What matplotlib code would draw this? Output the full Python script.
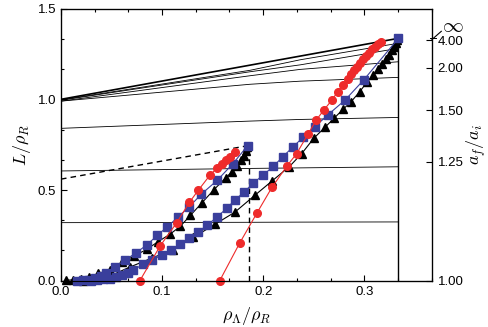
import matplotlib
matplotlib.use("Agg")
import matplotlib.pyplot as plt
from matplotlib.ticker import MultipleLocator, FixedLocator
import numpy as np

plt.rcParams['font.family'] = ['Liberation Sans', 'DejaVu Sans']
plt.rcParams['mathtext.fontset'] = 'cm'

# ---------------- data ----------------
# left group (ends at rho_L/rho_R ~ 0.185)
blue1_x = [0.016, 0.022, 0.028, 0.034, 0.040, 0.045, 0.053, 0.0634, 0.0743, 0.0848, 0.0953, 0.1052, 0.116, 0.127, 0.1386, 0.1548, 0.170, 0.1845]
blue1_y = [0.0, 0.002, 0.006, 0.013, 0.025, 0.045, 0.075, 0.114, 0.154, 0.197, 0.25, 0.298, 0.352, 0.408, 0.476, 0.555, 0.645, 0.744]

black1_x = [0.005, 0.012, 0.020, 0.028, 0.037, 0.0485, 0.060, 0.072, 0.0848, 0.096, 0.108, 0.118, 0.128, 0.139, 0.151, 0.163, 0.169, 0.174, 0.178, 0.181, 0.183, 0.184]
black1_y = [0.002, 0.005, 0.010, 0.020, 0.040, 0.060, 0.101, 0.135, 0.173, 0.215, 0.257, 0.30, 0.36, 0.427, 0.50, 0.568, 0.60, 0.635, 0.665, 0.69, 0.715, 0.735]

red1_x = [0.078, 0.098, 0.1145, 0.127, 0.136, 0.1475, 0.154, 0.159, 0.163, 0.167, 0.172]
red1_y = [0.0, 0.191, 0.32, 0.432, 0.50, 0.583, 0.62, 0.642, 0.665, 0.684, 0.708]

# right group (ends at rho_L/rho_R ~ 1/3)
blue2_x = [0.030, 0.036, 0.042, 0.048, 0.054, 0.060, 0.066, 0.0716, 0.0815, 0.0898, 0.0997, 0.1086, 0.1178, 0.127, 0.1353, 0.1449, 0.154, 0.164, 0.172, 0.181, 0.190, 0.200, 0.210, 0.2195, 0.229, 0.2393, 0.2512, 0.2637, 0.281, 0.2993, 0.3337]
blue2_y = [0.0, 0.003, 0.007, 0.012, 0.020, 0.030, 0.045, 0.060, 0.090, 0.115, 0.140, 0.167, 0.200, 0.235, 0.268, 0.307, 0.350, 0.399, 0.445, 0.488, 0.537, 0.583, 0.630, 0.684, 0.735, 0.790, 0.849, 0.913, 0.996, 1.106, 1.336]

black2_x = [0.022, 0.035, 0.050, 0.068, 0.090, 0.1105, 0.131, 0.152, 0.172, 0.192, 0.209, 0.2257, 0.238, 0.250, 0.261, 0.270, 0.279, 0.287, 0.2955, 0.303, 0.309, 0.314, 0.318, 0.321, 0.324, 0.327, 0.329, 0.331, 0.332]
black2_y = [0.0, 0.010, 0.030, 0.075, 0.125, 0.170, 0.239, 0.310, 0.378, 0.472, 0.551, 0.628, 0.700, 0.785, 0.845, 0.895, 0.945, 0.987, 1.042, 1.097, 1.134, 1.165, 1.195, 1.220, 1.245, 1.270, 1.290, 1.310, 1.325]

red2_x = [0.157, 0.1766, 0.194, 0.2086, 0.2234, 0.233, 0.2445, 0.2525, 0.260, 0.268, 0.2736, 0.279, 0.2835, 0.2868, 0.290, 0.293, 0.296, 0.299, 0.302, 0.305, 0.308, 0.311, 0.314, 0.3165]
red2_y = [0.0, 0.206, 0.375, 0.514, 0.632, 0.70, 0.81, 0.886, 0.941, 0.996, 1.042, 1.079, 1.11, 1.138, 1.16, 1.18, 1.20, 1.22, 1.24, 1.258, 1.275, 1.29, 1.305, 1.317]

# contour lines of constant a_f/a_i
contour_x = [0.0, 0.187, 0.2366, 0.3335]
contours_y = [
    [0.997, 1.160, 1.218, 1.309],
    [0.995, 1.152, 1.190, 1.281],
    [0.990, 1.130, 1.165, 1.207],
    [0.990, 1.083, 1.100, 1.121],
    [0.840, 0.880, 0.889, 0.900],
    [0.605, 0.619, 0.622, 0.628],
    [0.320, 0.322, 0.323, 0.324],
]
bold_x = [0.0, 0.3335]
bold_y = [1.0, 1.336]
dash_x = [0.0, 0.1845]
dash_y = [0.56, 0.744]
vdash_x = 0.1855
vsolid_x = 0.3335

right_ticks = [0.0, 0.656, 0.941, 1.173, 1.327]
right_labels = ['1.00', '1.25', '1.50', '2.00', '4.00']

BLUE = '#3a3f9c'
RED = '#ee2b2b'

fig = plt.figure(figsize=(4.88, 3.27), dpi=100)
ax = fig.add_axes([0.125, 0.1416, 0.7603, 0.832])

for cy in contours_y:
    ax.plot(contour_x, cy, color='black', lw=0.6, zorder=1)
ax.plot(bold_x, bold_y, color='black', lw=1.2, zorder=1)
ax.plot(dash_x, dash_y, color='black', lw=1.0, ls=(0, (4, 3)), zorder=1)
ax.plot([vdash_x, vdash_x], [0, dash_y[-1]], color='black', lw=1.0, ls=(0, (4, 3)), zorder=1)
ax.plot([vsolid_x, vsolid_x], [0, bold_y[-1]], color='black', lw=1.0, zorder=1)

ms = 5.5
for xs, ys in [(blue1_x, blue1_y), (blue2_x, blue2_y)]:
    ax.plot(xs, ys, color=BLUE, lw=0.8, marker='s', ms=ms, mec=BLUE, mfc=BLUE, zorder=4, clip_on=False)
for xs, ys in [(black1_x, black1_y), (black2_x, black2_y)]:
    ax.plot(xs, ys, color='black', lw=0.8, marker='^', ms=ms, mec='black', mfc='black', zorder=3, clip_on=False)
for xs, ys in [(red1_x, red1_y), (red2_x, red2_y)]:
    ax.plot(xs, ys, color=RED, lw=0.8, marker='o', ms=ms, mec=RED, mfc=RED, zorder=5, clip_on=False)

ax.set_xlim(0, 0.367)
ax.set_ylim(0, 1.5)
ax.xaxis.set_major_locator(FixedLocator([0.0, 0.1, 0.2, 0.3]))
ax.xaxis.set_minor_locator(MultipleLocator(0.1 / 3))
ax.yaxis.set_major_locator(FixedLocator([0.0, 0.5, 1.0, 1.5]))
ax.yaxis.set_minor_locator(MultipleLocator(0.5 / 3))
ax.set_xticklabels(['0.0', '0.1', '0.2', '0.3'])
ax.set_yticklabels(['0.0', '0.5', '1.0', '1.5'])
ax.tick_params(which='both', direction='in', top=True, right=False, labelsize=9.5, width=0.8)
ax.tick_params(which='major', length=4.5)
ax.tick_params(which='minor', length=2.5)
for s in ax.spines.values():
    s.set_linewidth(0.9)

ax.set_xlabel(r'$\rho_\Lambda/\rho_R$', fontsize=13, labelpad=5)
ax.set_ylabel(r'$L/\rho_R$', fontsize=13, labelpad=3)

ax2 = ax.twinx()
ax2.set_ylim(0, 1.5)
ax2.set_yticks(right_ticks)
ax2.set_yticklabels(right_labels)
ax2.tick_params(direction='in', length=4.5, width=0.8, labelsize=9.5, pad=4)
ax2.set_ylabel(r'$a_f/a_i$', fontsize=13, labelpad=1)
ax2.text(1.028, 1.40 / 1.5, r'$\infty$', transform=ax2.transAxes, fontsize=15, va='center', ha='left')
# break mark
ax2.plot([0.995, 1.01], [1.338 / 1.5, 1.338 / 1.5], transform=ax2.transAxes, color='black', lw=0.7, clip_on=False)
ax2.plot([1.0, 1.025], [1.33 / 1.5, 1.375 / 1.5], transform=ax2.transAxes, color='black', lw=0.8, clip_on=False)

fig.savefig('out.png', dpi=100)
